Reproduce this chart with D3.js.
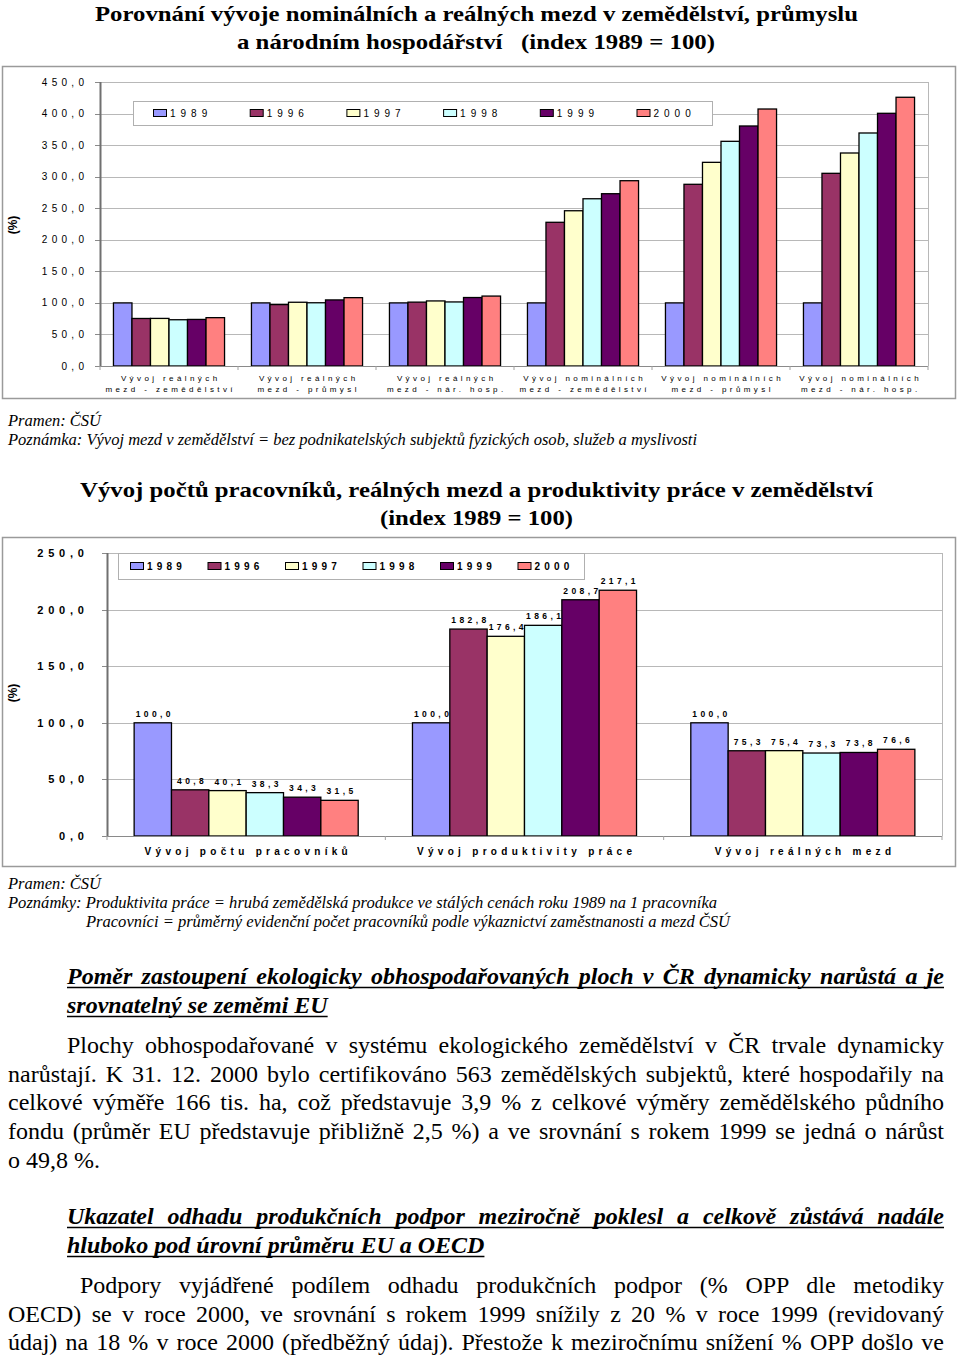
<!DOCTYPE html>
<html>
<head>
<meta charset="utf-8">
<script src="https://cdn.jsdelivr.net/npm/d3@7"></script>
<style>
  body { margin: 0; background: #fff; }
  svg { display: block; }
</style>
</head>
<body>
<script>
// ---------------- DATA ----------------
const years = ["1989", "1996", "1997", "1998", "1999", "2000"];
const yearColors = ["#9999FF", "#993366", "#FFFFCC", "#CCFFFF", "#660066", "#FF8080"];

// Chart 1: wages (index 1989 = 100)
const wageCategories = [
  ["Vývoj reálných", "mezd - zemědělství"],
  ["Vývoj reálných", "mezd - průmysl"],
  ["Vývoj reálných", "mezd - nár. hosp."],
  ["Vývoj nominálních", "mezd - zemědělství"],
  ["Vývoj nominálních", "mezd - průmysl"],
  ["Vývoj nominálních", "mezd - nár. hosp."]
];
const wageRealAgri = [100, 75.3, 75.4, 73.3, 73.8, 76.6];
const wageRealIndustry = [100, 97.3, 101.0, 100.2, 104.7, 108.3];
const wageRealNational = [100, 101.2, 103.1, 101.5, 108.5, 110.8];
const wageNominalAgri = [100, 227.7, 246.0, 265.0, 273.0, 293.6];
const wageNominalIndustry = [100, 287.9, 322.7, 356.0, 380.3, 407.2];
const wageNominalNational = [100, 305.3, 337.5, 369.2, 400.4, 425.8];
const wageTicks = [0, 50, 100, 150, 200, 250, 300, 350, 400, 450];

// Chart 2: workers, productivity, real wages in agriculture
const agriCategories = ["Vývoj počtu pracovníků", "Vývoj produktivity práce", "Vývoj reálných mezd"];
const agriWorkers = [100, 40.8, 40.1, 38.3, 34.3, 31.5];
const agriProductivity = [100, 182.8, 176.4, 186.1, 208.7, 217.1];
const agriRealWages = [100, 75.3, 75.4, 73.3, 73.8, 76.6];
const agriTicks = [0, 50, 100, 150, 200, 250];

// Texts
const title1 = ["Porovnání vývoje nominálních a reálných mezd v zemědělství, průmyslu",
                "a národním hospodářství   (index 1989 = 100)"];
const title2 = ["Vývoj počtů pracovníků, reálných mezd a produktivity práce v zemědělství",
                "(index 1989 = 100)"];
const notes1 = ["Pramen: ČSÚ",
  "Poznámka: Vývoj mezd v zemědělství = bez podnikatelských subjektů fyzických osob, služeb a myslivosti"];
const notes2 = ["Pramen: ČSÚ",
  "Poznámky: Produktivita práce = hrubá zemědělská produkce ve stálých cenách roku 1989 na 1 pracovníka",
  "Pracovníci = průměrný evidenční počet pracovníků podle výkaznictví zaměstnanosti a mezd ČSÚ"];
const heading1 = ["Poměr zastoupení ekologicky obhospodařovaných ploch v ČR dynamicky narůstá a je",
                  "srovnatelný se zeměmi EU"];
const para1 = ["Plochy obhospodařované v systému ekologického zemědělství v ČR trvale dynamicky",
  "narůstají. K 31. 12. 2000 bylo certifikováno 563 zemědělských subjektů, které hospodařily na",
  "celkové výměře 166 tis. ha, což představuje 3,9 % z celkové výměry zemědělského půdního",
  "fondu (průměr EU představuje přibližně 2,5 %) a ve srovnání s rokem 1999 se jedná o nárůst",
  "o 49,8 %."];
const heading2 = ["Ukazatel odhadu produkčních podpor meziročně poklesl a celkově zůstává nadále",
                  "hluboko pod úrovní průměru EU a OECD"];
const para2 = ["Podpory vyjádřené podílem odhadu produkčních podpor (% OPP dle metodiky",
  "OECD) se v roce 2000, ve srovnání s rokem 1999 snížily z 20 % v roce 1999 (revidovaný",
  "údaj) na 18 % v roce 2000 (předběžný údaj). Přestože k meziročnímu snížení % OPP došlo ve"];

// ---------------- DRAWING ----------------
const SERIF = "'Liberation Serif', 'Times New Roman', serif";
const SANS = "'Liberation Sans', Arial, sans-serif";
const fmt = v => d3.format(".1f")(v).replace(".", ",");

const svg = d3.select("body").append("svg").attr("width", 960).attr("height", 1357);

function fitText(x, y, str, width, opts) {
  const t = svg.append("text").attr("x", x).attr("y", y)
    .attr("font-family", opts.family || SERIF)
    .attr("font-size", opts.size)
    .attr("font-weight", opts.weight || "normal")
    .attr("font-style", opts.style || "normal")
    .attr("fill", "#000")
    .text(str);
  if (opts.anchor) t.attr("text-anchor", opts.anchor);
  if (width) t.attr("textLength", width).attr("lengthAdjust", "spacingAndGlyphs");
  return t;
}

// ---- Titles ----
fitText(476.5, 21, title1[0], 763, {size: 22, weight: "bold", anchor: "middle"});
fitText(476, 49, title1[1], 478, {size: 22, weight: "bold", anchor: "middle"}).style("white-space", "pre");
fitText(476.5, 497, title2[0], 793, {size: 22, weight: "bold", anchor: "middle"});
fitText(476.5, 525, title2[1], 193, {size: 22, weight: "bold", anchor: "middle"});

// ---- generic grouped bar chart ----
function groupedChart(cfg) {
  const g = svg.append("g");
  // frame
  g.append("rect").attr("x", cfg.frame[0] + 0.5).attr("y", cfg.frame[1] + 0.5)
    .attr("width", cfg.frame[2] - cfg.frame[0]).attr("height", cfg.frame[3] - cfg.frame[1])
    .attr("fill", "none").attr("stroke", "#9a9a9a").attr("stroke-width", 1.5);

  const y = d3.scaleLinear().domain([0, cfg.ticks[cfg.ticks.length - 1]]).range([cfg.y0, cfg.y1]);
  const x0 = d3.scaleBand().domain(d3.range(cfg.series.length)).range([cfg.x0, cfg.x1])
    .paddingInner(0.195).paddingOuter(0.0975);
  const x1 = d3.scaleBand().domain(years).range([0, x0.bandwidth()]);

  // gridlines
  g.selectAll(".grid").data(cfg.ticks.filter(t => t > 0)).join("line")
    .attr("x1", cfg.x0).attr("x2", cfg.x1)
    .attr("y1", d => Math.round(y(d)) + 0.5).attr("y2", d => Math.round(y(d)) + 0.5)
    .attr("stroke", "#b8b8b8").attr("stroke-width", 1);
  // right border of plot area
  g.append("line").attr("x1", cfg.x1 + 0.5).attr("x2", cfg.x1 + 0.5)
    .attr("y1", y(cfg.ticks[cfg.ticks.length - 1])).attr("y2", cfg.y0)
    .attr("stroke", "#b8b8b8");
  // tick marks
  g.selectAll(".tk").data(cfg.ticks).join("line")
    .attr("x1", cfg.x0 - 5).attr("x2", cfg.x0)
    .attr("y1", d => Math.round(y(d)) + 0.5).attr("y2", d => Math.round(y(d)) + 0.5)
    .attr("stroke", "#8a8a8a");
  // tick labels
  g.selectAll(".tl").data(cfg.ticks).join("text")
    .attr("x", cfg.tickX + cfg.tickLS).attr("y", d => y(d) + cfg.tickSize * 0.36)
    .attr("text-anchor", "end")
    .attr("font-family", SANS).attr("font-size", cfg.tickSize)
    .attr("font-weight", cfg.bold ? "bold" : "normal")
    .attr("letter-spacing", cfg.tickLS)
    .attr("fill", "#000")
    .text(d => fmt(d));

  // legend box
  const lg = g.append("g");
  lg.append("rect").attr("x", cfg.legend.x + 0.5).attr("y", cfg.legend.y + 0.5)
    .attr("width", cfg.legend.w).attr("height", cfg.legend.h)
    .attr("fill", "#fff").attr("stroke", "#b0b0b0");

  // bars
  cfg.series.forEach((vals, gi) => {
    const gg = g.append("g").attr("transform", `translate(${x0(gi)},0)`);
    gg.selectAll("rect").data(vals).join("rect")
      .attr("x", (d, i) => x1(years[i]))
      .attr("y", d => y(d))
      .attr("width", x1.bandwidth())
      .attr("height", d => cfg.y0 - y(d))
      .attr("fill", (d, i) => yearColors[i])
      .attr("stroke", "#000").attr("stroke-width", 1.3);
    if (cfg.dataLabels) {
      gg.selectAll("text").data(vals).join("text")
        .attr("x", (d, i) => x1(years[i]) + x1.bandwidth() / 2 + 2)
        .attr("y", d => y(d) - 6)
        .attr("text-anchor", "middle")
        .attr("font-family", SANS).attr("font-size", 8.5).attr("font-weight", "bold")
        .attr("letter-spacing", 3.4).attr("fill", "#000")
        .text(d => fmt(d));
    }
  });

  // axes lines
  g.append("line").attr("x1", cfg.x0).attr("x2", cfg.x1).attr("y1", cfg.y0 + 0.5).attr("y2", cfg.y0 + 0.5)
    .attr("stroke", "#8a8a8a").attr("stroke-width", 1.2);
  g.append("line").attr("x1", cfg.x0 + 0.5).attr("x2", cfg.x0 + 0.5)
    .attr("y1", y(cfg.ticks[cfg.ticks.length - 1])).attr("y2", cfg.y0)
    .attr("stroke", "#707070").attr("stroke-width", 2);
  // category tick marks
  g.selectAll(".ct").data(d3.range(cfg.series.length + 1)).join("line")
    .attr("x1", d => cfg.x0 + d * x0.step()).attr("x2", d => cfg.x0 + d * x0.step())
    .attr("y1", cfg.y0).attr("y2", cfg.y0 + 4)
    .attr("stroke", "#a0a0a0");

  // category labels
  cfg.categories.forEach((lines, gi) => {
    const cx = x0(gi) + x0.bandwidth() / 2 + cfg.catLS / 2;
    [].concat(lines).forEach((ln, li) => {
      g.append("text").attr("x", cx).attr("y", cfg.catY + li * cfg.catLH)
        .attr("text-anchor", "middle")
        .attr("font-family", SANS).attr("font-size", cfg.catSize)
        .attr("font-weight", cfg.bold ? "bold" : "normal")
        .attr("letter-spacing", cfg.catLS).attr("fill", "#000")
        .text(ln);
    });
  });

  // legend items
  years.forEach((yr, i) => {
    const lx = cfg.legend.ix + i * cfg.legend.step;
    const cy = cfg.legend.y + cfg.legend.h / 2;
    lg.append("rect").attr("x", lx + 0.5).attr("y", cy - 3.5)
      .attr("width", 13).attr("height", 7)
      .attr("fill", yearColors[i]).attr("stroke", "#000").attr("stroke-width", 1);
    lg.append("text").attr("x", lx + 17).attr("y", cy + 3.6)
      .attr("font-family", SANS).attr("font-size", 10)
      .attr("font-weight", cfg.bold ? "bold" : "normal")
      .attr("letter-spacing", cfg.legend.ls).attr("fill", "#000")
      .text(yr);
  });

  // y-axis title
  g.append("text").attr("transform", `translate(${cfg.pctX},${cfg.pctY}) rotate(-90)`)
    .attr("text-anchor", "middle").attr("font-family", SANS).attr("font-size", 12)
    .attr("font-weight", "bold").attr("fill", "#000").text("(%)");
}

groupedChart({
  frame: [2, 66, 955, 398],
  series: [wageRealAgri, wageRealIndustry, wageRealNational, wageNominalAgri, wageNominalIndustry, wageNominalNational],
  categories: wageCategories,
  ticks: wageTicks,
  x0: 100, x1: 928, y0: 366, y1: 82,
  tickX: 84, tickSize: 10, tickLS: 4.3,
  catY: 381, catLH: 11, catSize: 8, catLS: 3.4,
  legend: {x: 133, y: 101, w: 579, h: 24, ix: 153, step: 96.7, ls: 5},
  dataLabels: false, bold: false,
  pctX: 17, pctY: 225
});

groupedChart({
  frame: [2, 537, 955, 866],
  series: [agriWorkers, agriProductivity, agriRealWages],
  categories: agriCategories,
  ticks: agriTicks,
  x0: 107, x1: 942, y0: 836, y1: 553,
  tickX: 84, tickSize: 11, tickLS: 4.8,
  catY: 855, catLH: 11, catSize: 10, catLS: 4.3,
  legend: {x: 118, y: 553, w: 466, h: 26, ix: 130, step: 77.5, ls: 4.2},
  dataLabels: true, bold: true,
  pctX: 17, pctY: 693
});

// ---- Notes ----
fitText(8, 426, notes1[0], 93, {size: 16, style: "italic"});
fitText(8, 445, notes1[1], 689, {size: 16, style: "italic"});
fitText(8, 889, notes2[0], 93, {size: 16, style: "italic"});
fitText(8, 908, notes2[1], 709, {size: 16, style: "italic"});
fitText(86, 927, notes2[2], 644, {size: 16, style: "italic"});

// ---- Justified paragraphs ----
function para(lines, firstX, restX, right, baseline0, lh, opts) {
  lines.forEach((str, i) => {
    const x = i === 0 ? firstX : restX;
    const yb = baseline0 + i * lh;
    const t = svg.append("text").attr("x", x).attr("y", yb)
      .attr("font-family", SERIF).attr("font-size", opts.size)
      .attr("font-weight", opts.weight || "normal")
      .attr("font-style", opts.style || "normal")
      .attr("fill", "#000").text(str);
    const w = t.node().getComputedTextLength();
    const target = right - x;
    const last = i === lines.length - 1 && !opts.continues;
    let endX = x + w;
    if (!last) {
      const n = (str.match(/ /g) || []).length;
      if (w > target) {
        t.attr("textLength", target).attr("lengthAdjust", "spacingAndGlyphs");
      } else if (n > 0) {
        t.attr("word-spacing", (target - w) / n);
      }
      endX = right;
    }
    if (opts.underline) {
      svg.append("line").attr("x1", x).attr("x2", endX)
        .attr("y1", yb + 3.5).attr("y2", yb + 3.5)
        .attr("stroke", "#000").attr("stroke-width", 1.5);
    }
  });
}

para(heading1, 67, 67, 944, 984, 29, {size: 24, weight: "bold", style: "italic", underline: true});
para(para1, 67, 8, 944, 1053, 28.7, {size: 24});
para(heading2, 67, 67, 944, 1224, 29, {size: 24, weight: "bold", style: "italic", underline: true});
para(para2, 80, 8, 944, 1293, 28.5, {size: 24, continues: true});
</script>
</body>
</html>
